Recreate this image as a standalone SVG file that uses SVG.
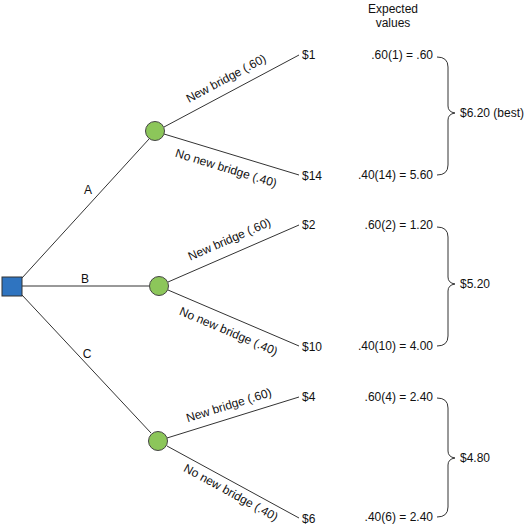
<svg xmlns="http://www.w3.org/2000/svg" width="529" height="529" viewBox="0 0 529 529">
<style>
.ln{stroke:#333;stroke-width:1;fill:none}
.br{stroke:#333;stroke-width:1;fill:none}
text{font-family:"Liberation Sans",Arial,sans-serif;font-size:12px;fill:#111}
.ev{text-anchor:end}
.chance{fill:#8cc65a;stroke:#444;stroke-width:1}
.dec{fill:#2f74c0;stroke:#333;stroke-width:1}
</style>
<rect width="529" height="529" fill="#fff"/>
<g id="connectors">
<line class="ln" x1="22" y1="278" x2="149" y2="139"/>
<line class="ln" x1="22" y1="286" x2="149" y2="286"/>
<line class="ln" x1="22" y1="295" x2="151" y2="433"/>
<line class="ln" x1="164" y1="127" x2="299" y2="55"/>
<line class="ln" x1="164" y1="134" x2="299" y2="175"/>
<line class="ln" x1="168" y1="282" x2="299" y2="225"/>
<line class="ln" x1="168" y1="290" x2="299" y2="346"/>
<line class="ln" x1="167" y1="438" x2="299" y2="397"/>
<line class="ln" x1="167" y1="446" x2="299" y2="518"/>
<text x="88" y="194" text-anchor="middle">A</text>
<text x="85" y="283" text-anchor="middle">B</text>
<text x="87" y="358" text-anchor="middle">C</text>
<text transform="translate(228,82) rotate(-28.2)" text-anchor="middle">New bridge (.60)</text>
<text transform="translate(225,172) rotate(17)" text-anchor="middle">No new bridge (.40)</text>
<text transform="translate(231,243) rotate(-23.5)" text-anchor="middle">New bridge (.60)</text>
<text transform="translate(227,335) rotate(23.2)" text-anchor="middle">No new bridge (.40)</text>
<text transform="translate(230,409) rotate(-17.3)" text-anchor="middle">New bridge (.60)</text>
<text transform="translate(229,496) rotate(28.7)" text-anchor="middle">No new bridge (.40)</text>
</g>
<g id="decision"><rect class="dec" x="2" y="277" width="20" height="19"/></g>
<g id="chanceA"><circle class="chance" cx="155" cy="131" r="9.5"/></g>
<g id="chanceB"><circle class="chance" cx="159" cy="286" r="9.5"/></g>
<g id="chanceC"><circle class="chance" cx="158" cy="441" r="9.5"/></g>
<g id="payoffs">
<text x="302" y="59">$1</text>
<text x="302" y="180">$14</text>
<text x="302" y="229">$2</text>
<text x="302" y="351">$10</text>
<text x="302" y="401">$4</text>
<text x="302" y="523">$6</text>
</g>
<g id="expected">
<text x="393" y="13" text-anchor="middle">Expected</text>
<text x="393" y="27" text-anchor="middle">values</text>
<text class="ev" x="433" y="59">.60(1) = .60</text>
<text class="ev" x="433" y="179">.40(14) = 5.60</text>
<text class="ev" x="433" y="229">.60(2) = 1.20</text>
<text class="ev" x="433" y="350">.40(10) = 4.00</text>
<text class="ev" x="433" y="401">.60(4) = 2.40</text>
<text class="ev" x="433" y="521">.40(6) = 2.40</text>
</g>
<g id="braceA">
<path class="br" d="M437,57 Q448,57 448,67 L448,106 Q448,112 455,113 Q448,114 448,120 L448,165 Q448,175 437,175"/>
<text x="460" y="117">$6.20 (best)</text>
</g>
<g id="braceB">
<path class="br" d="M437,227 Q448,227 448,237 L448,277 Q448,283 455,284 Q448,285 448,291 L448,336 Q448,346 437,346"/>
<text x="460" y="288">$5.20</text>
</g>
<g id="braceC">
<path class="br" d="M437,398 Q448,398 448,408 L448,451 Q448,457 455,458 Q448,459 448,465 L448,507 Q448,517 437,517"/>
<text x="460" y="462">$4.80</text>
</g>
</svg>
